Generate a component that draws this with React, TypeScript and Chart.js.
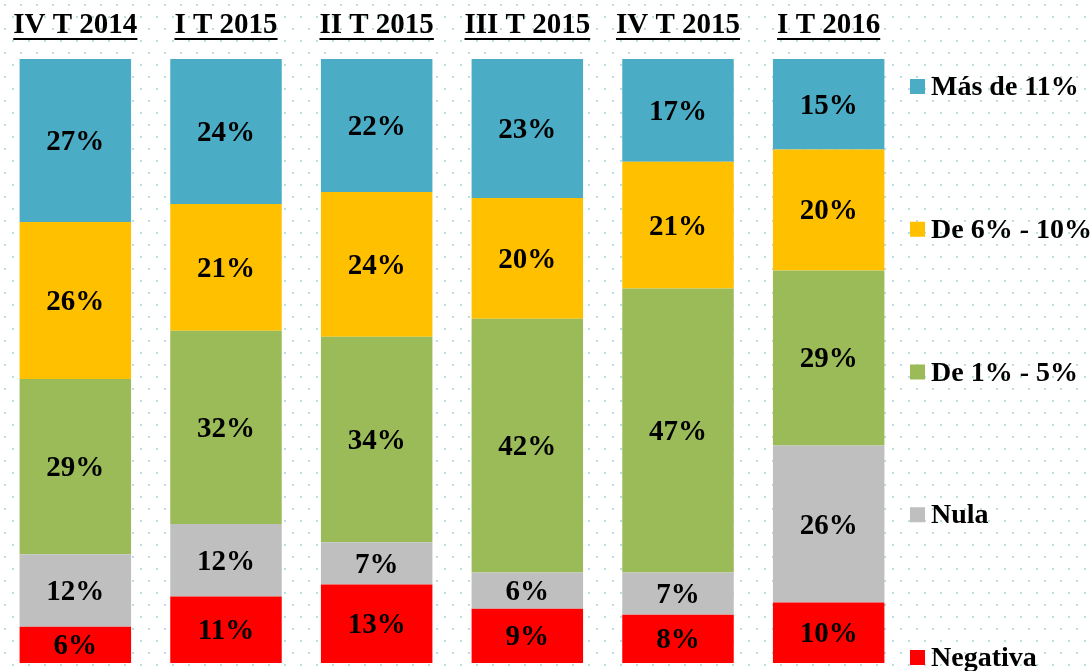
import React, { useEffect, useRef } from "react";
import { Chart, registerables } from "chart.js";

Chart.register(...registerables);

const categories = ["IV T 2014", "I T 2015", "II T 2015", "III T 2015", "IV T 2015", "I T 2016"];
const negativa = [6, 11, 13, 9, 8, 10];
const nula = [12, 12, 7, 6, 7, 26];
const de1a5 = [29, 32, 34, 42, 47, 29];
const de6a10 = [26, 21, 24, 20, 21, 20];
const mas11 = [27, 24, 22, 23, 17, 15];

const seriesNames = ["Negativa", "Nula", "De 1% - 5%", "De 6% - 10%", "Más de 11%"];
const seriesColors = ["#FF0000", "#BFBFBF", "#9BBB59", "#FFC000", "#4BACC6"];

const FONT = '"Liberation Serif", "Times New Roman", serif';

const bgPlugin = {
  id: "dotsBg",
  beforeDraw(chart: any) {
    const { ctx, width, height } = chart;
    ctx.save();
    ctx.fillStyle = "#ffffff";
    ctx.fillRect(0, 0, width, height);
    ctx.fillStyle = "#BBDDE8";
    let row = 0;
    for (let y = 4; y < height; y += 12) {
      const off = row % 2 === 0 ? 4 : 12;
      for (let x = off; x < width; x += 16) {
        ctx.fillRect(x, y, 2, 2);
      }
      row++;
    }
    ctx.restore();
  },
};

const labelsPlugin = {
  id: "segLabels",
  afterDatasetsDraw(chart: any) {
    const { ctx } = chart;
    ctx.save();
    ctx.font = `bold 29px ${FONT}`;
    ctx.fillStyle = "#000";
    ctx.textAlign = "center";
    ctx.textBaseline = "middle";
    chart.data.datasets.forEach((ds: any, di: number) => {
      const meta = chart.getDatasetMeta(di);
      meta.data.forEach((bar: any, i: number) => {
        const v = ds.data[i];
        const cy = (bar.y + bar.base) / 2;
        ctx.fillText(`${v}%`, bar.x, cy + 2);
      });
    });
    ctx.restore();
  },
  afterDraw(chart: any) {
    const { ctx, chartArea } = chart;
    const xScale = chart.scales.x;
    ctx.save();
    // category labels, underlined
    ctx.font = `bold 29px ${FONT}`;
    ctx.fillStyle = "#000";
    ctx.textAlign = "center";
    ctx.textBaseline = "alphabetic";
    categories.forEach((c, i) => {
      const x = xScale.getPixelForValue(i);
      const base = 33;
      ctx.fillText(c, x, base);
      const w = ctx.measureText(c).width;
      ctx.fillRect(x - w / 2, base + 5, w, 2);
    });
    // legend
    const n = seriesNames.length;
    const top = chartArea.top + 27;
    const step = (chartArea.bottom - chartArea.top - 33) / (n - 1);
    ctx.font = `bold 28px ${FONT}`;
    ctx.textAlign = "left";
    ctx.textBaseline = "middle";
    for (let k = 0; k < n; k++) {
      const si = n - 1 - k;
      const y = top + k * step;
      ctx.fillStyle = seriesColors[si];
      ctx.fillRect(chartArea.right + 6, y - 7, 15, 15);
      ctx.fillStyle = "#000";
      ctx.fillText(seriesNames[si], chartArea.right + 27, y + 2);
    }
    ctx.restore();
  },
};

export default function App() {
  const ref = useRef<HTMLCanvasElement | null>(null);
  useEffect(() => {
    if (!ref.current) return;
    const dataSets = [negativa, nula, de1a5, de6a10, mas11];
    const chart = new Chart(ref.current, {
      type: "bar",
      data: {
        labels: categories,
        datasets: dataSets.map((d, i) => ({
          label: seriesNames[i],
          data: d,
          backgroundColor: seriesColors[i],
          borderWidth: 0,
          categoryPercentage: 1,
          barPercentage: 0.74,
        })),
      },
      options: {
        responsive: false,
        animation: false,
        layout: { padding: { top: 59, bottom: 8, left: 0, right: 188 } },
        plugins: { legend: { display: false }, tooltip: { enabled: false } },
        scales: {
          x: { stacked: true, display: false },
          y: { stacked: true, display: false, min: 0, max: 100 },
        },
      },
      plugins: [bgPlugin, labelsPlugin],
    });
    return () => chart.destroy();
  }, []);
  return (
    <div style={{ position: "fixed", left: 0, top: 0, width: 1092, height: 671, background: "#fff" }}>
      <canvas ref={ref} width={1092} height={671} style={{ display: "block" }} />
    </div>
  );
}
